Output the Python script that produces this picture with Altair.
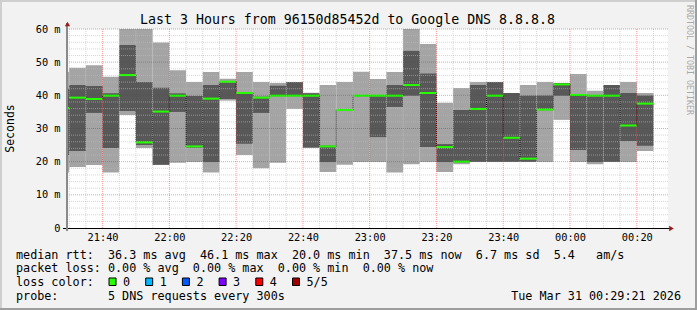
import altair as alt
import pandas as pd

# ---------------- data ----------------
times = ["21:25", "21:30", "21:35", "21:40", "21:45", "21:50", "21:55",
         "22:00", "22:05", "22:10", "22:15", "22:20", "22:25", "22:30", "22:35",
         "22:40", "22:45", "22:50", "22:55",
         "23:00", "23:05", "23:10", "23:15", "23:20", "23:25", "23:30", "23:35",
         "23:40", "23:45", "23:50", "23:55",
         "00:00", "00:05", "00:10", "00:15", "00:20"]
ping_min = [16.7, 18.4, 19.0, 16.7, 34.1, 24.1, 19.0, 19.7, 19.9, 16.7, 38.4, 22.0,
            18.0, 19.7, 35.9, 24.1, 16.9, 19.1, 19.9, 19.9, 16.7, 19.2, 19.9, 16.9,
            19.2, 19.9, 19.9, 19.9, 19.9, 19.9, 32.6, 19.9, 19.2, 19.9, 19.9, 23.2]
ping_low = [22.0, 23.2, 34.7, 24.1, 35.3, 25.0, 19.1, 35.0, 24.2, 19.9, 38.9, 25.4,
            34.7, 39.7, 39.7, 24.3, 19.9, 35.4, 39.7, 27.4, 36.5, 39.9, 24.4, 19.9,
            19.8, 20.0, 20.0, 20.0, 20.0, 35.5, 39.9, 23.5, 19.9, 20.0, 26.2, 24.8]
ping_median = [36.2, 39.3, 38.9, 39.9, 46.1, 25.8, 35.1, 39.9, 24.6, 39.0, 44.1, 40.7,
               39.3, 39.9, 39.9, 39.9, 24.6, 35.6, 39.9, 39.9, 39.9, 43.1, 40.7, 24.4,
               20.0, 35.9, 39.9, 27.2, 20.9, 35.7, 43.3, 40.1, 39.9, 39.9, 30.9, 37.5]
ping_high = [42.0, 43.1, 42.8, 40.6, 55.2, 44.0, 42.3, 40.6, 39.8, 43.1, 44.3, 40.9,
             39.6, 42.9, 44.0, 40.6, 24.9, 35.8, 40.1, 40.0, 43.1, 53.4, 46.6, 25.3,
             35.6, 43.1, 44.0, 40.7, 39.9, 39.9, 43.7, 40.2, 40.1, 43.1, 40.7, 39.9]
ping_max = [47.0, 48.3, 49.1, 45.6, 61.0, 61.0, 55.9, 47.6, 44.0, 47.0, 45.0, 47.0,
            44.0, 43.7, 44.0, 40.8, 43.1, 44.0, 47.1, 44.9, 47.0, 61.0, 55.5, 37.8,
            42.2, 44.0, 44.0, 40.7, 43.1, 44.0, 43.7, 46.4, 41.4, 43.1, 44.0, 40.7]

title_text = "Last 3 Hours from 96150d85452d to Google DNS 8.8.8.8"
y_ticks = [0, 10, 20, 30, 40, 50, 60]
x_ticks = [40, 60, 80, 100, 120, 140, 160, 180, 200]   # minutes after 21:00
x_domain = [29.35, 209.35]                              # 21:29:21 .. 00:29:21

rtt_stats = [("36.3", "avg"), ("46.1", "max"), ("20.0", "min"), ("37.5", "now"), ("6.7", "sd")]
amps = "5.4"
loss_stats = [("0.00", "avg"), ("0.00", "max"), ("0.00", "min"), ("0.00", "now")]
loss_labels = ["0", "1", "2", "3", "4", "5/5"]
loss_colors = ["#26ff00", "#00b8ff", "#0059ff", "#7e00ff", "#ff0000", "#a00000"]
probe_text = "5 DNS requests every 300s"
date_text = "Tue Mar 31 00:29:21 2026"
watermark = "RRDTOOL / TOBI OETIKER"

# ---------------- table ----------------
def to_min(t):
    h, m = map(int, t.split(":"))
    if h < 12:
        h += 24
    return (h - 21) * 60 + m

df = pd.DataFrame({
    "start": [to_min(t) for t in times],
    "p1": ping_min, "p2": ping_low, "p3": ping_median, "p4": ping_high, "p5": ping_max,
})
df["end"] = df["start"] + 5
df["prev"] = df["p3"].shift(1)
conn = df.dropna(subset=["prev"])

W, H = 601, 199
MONO = "DejaVu Sans Mono"
NB = "\u00a0"

xs = alt.Scale(domain=x_domain, nice=False, zero=False)
ys = alt.Scale(domain=[0, 60], nice=False, zero=False)

x_axis = alt.Axis(values=x_ticks, grid=False, domain=False, ticks=False, title=None,
                  labelExpr="timeFormat(datetime(2026, 2, 30, 21, datum.value, 0), '%H:%M')",
                  labelFont=MONO, labelFontSize=10.3, labelColor="#000000",
                  labelBaseline="middle", labelPadding=9.7, labelFlush=False,
                  labelOverlap=False)
y_axis = alt.Axis(values=y_ticks, grid=False, domain=False, ticks=False, title=None,
                  labelExpr="datum.value == 0 ? '0' : datum.value + ' m'",
                  labelFont=MONO, labelFontSize=10.3, labelColor="#000000",
                  labelPadding=7, labelAlign="right", labelBaseline="middle",
                  labelOverlap=False, labelFlush=False)

def X(field):
    return alt.X(field, scale=xs, axis=x_axis, title=None)

def Y(field):
    return alt.Y(field, scale=ys, axis=y_axis, title=None)

base = alt.Chart(df)
light = base.mark_rect(color="#a4a4a4", clip=True).encode(
    x=X("start:Q"), x2="end:Q", y=Y("p1:Q"), y2="p5:Q")
dark = base.mark_rect(color="#585858", clip=True).encode(
    x=X("start:Q"), x2="end:Q", y=Y("p2:Q"), y2="p4:Q")
connectors = alt.Chart(conn).mark_rule(color="#000000", strokeDash=[1, 1], strokeWidth=1, clip=True).encode(
    x=X("start:Q"), y=Y("prev:Q"), y2="p3:Q")
median = base.mark_rule(color="#26ff00", strokeWidth=2, clip=True).encode(
    x=X("start:Q"), x2="end:Q", y=Y("p3:Q"))

# grid
minor_x = [m for m in range(30, 210, 5) if m not in x_ticks]
major_x = x_ticks
minor_y = [v for v in range(2, 60, 2) if v % 10 != 0]
major_y = [10, 20, 30, 40, 50, 60]

def grid(vals, ch, color, opacity):
    enc = {ch: (X("g:Q") if ch == "x" else Y("g:Q"))}
    return alt.Chart(pd.DataFrame({"g": vals})).mark_rule(
        color=color, opacity=opacity, strokeDash=[1, 1], strokeWidth=1).encode(**enc)

gx_minor = grid(minor_x, "x", "#bababa", 0.6)
gy_minor = grid(minor_y, "y", "#bababa", 0.6)
gx_major = grid(major_x, "x", "#ff0000", 0.4)
gy_major = grid(major_y, "y", "#ff0000", 0.4)

one = pd.DataFrame({"k": [0]})

def rect(x0, x1, y0, y1, color, **kw):
    return alt.Chart(one).mark_rect(color=color, **kw).encode(
        x=alt.value(x0), x2=alt.value(x1), y=alt.value(y0), y2=alt.value(y1))

def text(t, x, y, **kw):
    opts = dict(font=MONO, fontSize=11.75, color="#000000", align="left", baseline="alphabetic")
    opts.update(kw)
    return alt.Chart(one).mark_text(text=t, **opts).encode(x=alt.value(x), y=alt.value(y))

# axis lines + arrows
x_line = alt.Chart(one).mark_rule(color="#000000", strokeWidth=1).encode(
    x=alt.value(-4), x2=alt.value(603), y=alt.value(199.5))
y_line = alt.Chart(one).mark_rule(color="#8a8a8a", strokeWidth=2).encode(
    x=alt.value(0), y=alt.value(-6), y2=alt.value(202))
arrow_up = alt.Chart(one).mark_point(shape="triangle-up", filled=True, color="#9b1c1c",
                                     size=28, opacity=1).encode(x=alt.value(0.5), y=alt.value(-5))
arrow_right = alt.Chart(one).mark_point(shape="triangle-right", filled=True, color="#9b1c1c",
                                        size=28, opacity=1).encode(x=alt.value(604.5), y=alt.value(199.5))

# frame (shade)
frame = [
    rect(-67, 630, -29, -27, "#cfcfcf"),
    rect(-67, -65, -29, 281, "#cfcfcf"),
    rect(-67, 630, 279, 281, "#9e9e9e"),
    rect(628, 630, -29, 281, "#9e9e9e"),
]

# texts
title = text(title_text, 280.5, -5, fontSize=13.25, align="center")
ylabel = text("Seconds", -56, 99.5, fontSize=11.5, align="center", baseline="middle", angle=270)
wm = text(watermark, 621.5, 31, fontSize=8.3, align="center", baseline="middle", angle=90, color="#a8a8a8")

line1 = "median rtt:" + NB * 2 + (NB * 2).join(f"{v} ms {k}" for v, k in rtt_stats) + NB * 2 + amps + NB * 3 + "am/s"
line2 = "packet loss: " + (NB * 2).join(f"{v} % {k}" for v, k in loss_stats)
line3 = "loss color:"
line4 = "probe:" + NB * 7 + probe_text
L = -51
legend = [
    text(line1.replace(" ", NB), L, 229.5),
    text(line2.replace(" ", NB), L, 243),
    text(line3.replace(" ", NB), L, 256.8),
    text(line4.replace(" ", NB), L, 270.5),
    text(date_text.replace(" ", NB), 614, 270.5, align="right"),
]
for i, (lab, col) in enumerate(zip(loss_labels, loss_colors)):
    x0 = 42 + i * 36.7
    legend.append(rect(x0, x0 + 7, 249, 256.5, col, stroke="#000000", strokeWidth=1))
    legend.append(text(lab, x0 + 14, 256.8))

chart = alt.layer(
    light, dark, connectors, median,
    gx_minor, gy_minor, gx_major, gy_major,
    x_line, y_line, arrow_up, arrow_right,
    *frame, title, ylabel, wm, *legend,
).properties(
    width=W, height=H,
    autosize=alt.AutoSizeParams(type="none"),
    padding={"left": 67, "top": 29, "right": 29, "bottom": 82},
).configure(background="#f2f2f2").configure_view(fill="white", strokeWidth=0)

chart.save("out.html", embed_options={"renderer": "svg", "actions": False})
